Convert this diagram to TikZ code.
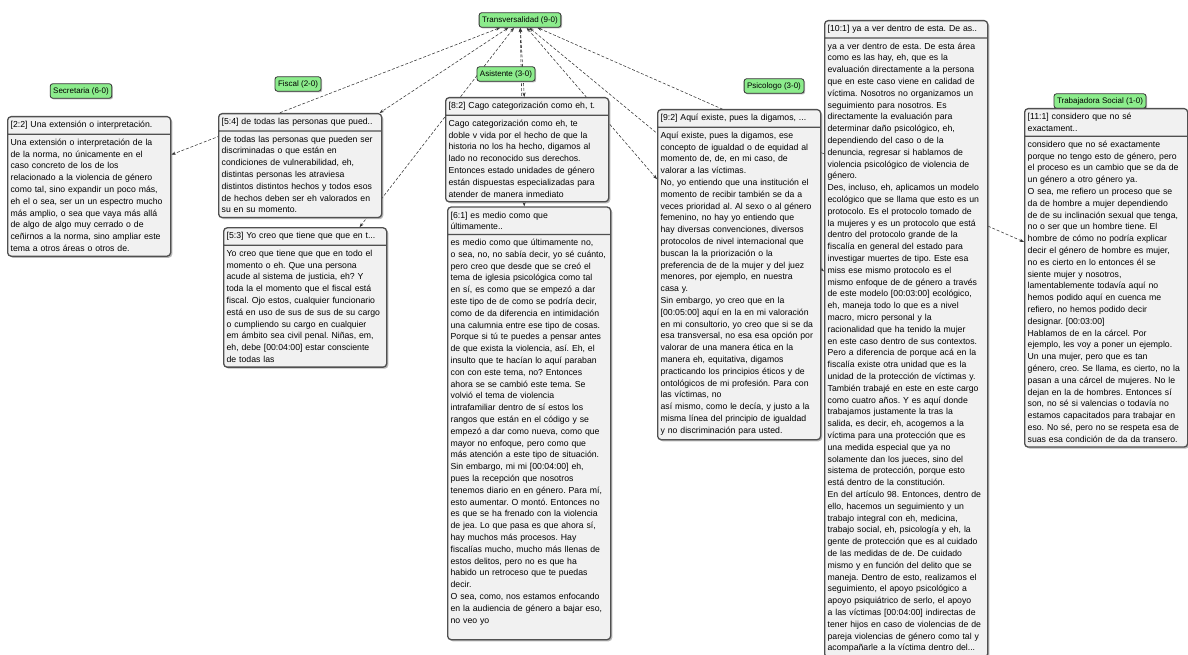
\documentclass[tikz,border=0pt]{standalone}
\usepackage{fontspec}
\setmainfont{Liberation Sans}
\usepackage{xcolor}
\usetikzlibrary{positioning}
\usetikzlibrary{shapes.multipart}
\usetikzlibrary{arrows.meta}
\usetikzlibrary{shadows}
\usetikzlibrary{backgrounds}
\definecolor{codegreen}{RGB}{140,236,140}
\definecolor{quotefill}{RGB}{241,241,241}
\definecolor{quoteline}{RGB}{80,80,80}
\frenchspacing

\begin{document}
\begin{tikzpicture}[
  x=1pt, y=-1pt,
  font=\fontsize{8.7}{11.8}\selectfont,
  codebox/.style={draw=black!80, line width=0.8pt, fill=codegreen, rounded corners=2.5pt, inner xsep=3pt, inner ysep=3.5pt,
    font=\fontsize{8}{9}\selectfont, drop shadow={shadow xshift=1.2pt, shadow yshift=-1.2pt, fill=black!55}},
  quotebox/.style={rectangle split, rectangle split parts=2, draw=quoteline, line width=1.3pt, fill=quotefill,
    rounded corners=3.5pt, text width=157pt, align=left, inner xsep=3pt, inner ysep=4pt, anchor=north west,
    drop shadow={shadow xshift=1.6pt, shadow yshift=-1.6pt, fill=black!55}},
  link/.style={{Stealth[length=4.5pt,width=3.2pt]}-{Stealth[length=4.5pt,width=3.2pt]}, dash pattern=on 3pt off 1.8pt, black!80, line width=0.55pt}
]
\useasboundingbox (0,0) rectangle (1188,655);

% Codes
\node[codebox] (trans) at (520,20) {Transversalidad (9-0)};
\node[codebox] (secr) at (81,91) {Secretaria (6-0)};
\node[codebox] (fisc) at (298,84) {Fiscal (2-0)};
\node[codebox] (asis) at (506,74) {Asistente (3-0)};
\node[codebox] (psic) at (774,86) {Psicologo (3-0)};
\node[codebox] (trab) at (1100,101) {Trabajadora Social (1-0)};

% Secretaria
\node[quotebox] (q22) at (7,116)
{[2:2] Una extensión o interpretación.
\nodepart{two}
Una extensión o interpretación de la\\
de la norma, no únicamente en el\\
caso concreto de los de los\\
relacionado a la violencia de género\\
como tal, sino expandir un poco más,\\
eh el o sea, ser un un espectro mucho\\
más amplio, o sea que vaya más allá\\
de algo de algo muy cerrado o de\\
ceñirnos a la norma, sino ampliar este\\
tema a otros áreas o otros de.};

% Fiscal
\node[quotebox] (q54) at (218,113)
{[5:4] de todas las personas que pued..
\nodepart{two}
de todas las personas que pueden ser\\
discriminadas o que están en\\
condiciones de vulnerabilidad, eh,\\
distintas personas les atraviesa\\
distintos distintos hechos y todos esos\\
de hechos deben ser eh valorados en\\
su en su momento.};

\node[quotebox, below=9pt of q54.south west, anchor=north west, xshift=5pt] (q53)
{[5:3] Yo creo que tiene que que en t...
\nodepart{two}
Yo creo que tiene que que en todo el\\
momento o eh. Que una persona\\
acude al sistema de justicia, eh? Y\\
toda la el momento que el fiscal está\\
fiscal. Ojo estos, cualquier funcionario\\
está en uso de sus de sus de su cargo\\
o cumpliendo su cargo en cualquier\\
em ámbito sea civil penal. Niñas, em,\\
eh, debe [00:04:00] estar consciente\\
de todas las};

% Asistente
\node[quotebox] (q82) at (445,97)
{[8:2] Cago categorización como eh, t.
\nodepart{two}
Cago categorización como eh, te\\
doble v vida por el hecho de que la\\
historia no los ha hecho, digamos al\\
lado no reconocido sus derechos.\\
Entonces estado unidades de género\\
están dispuestas especializadas para\\
atender de manera inmediato};

\node[quotebox, below=4pt of q82.south west, anchor=north west, xshift=2pt] (q61)
{[6:1] es medio como que\\
últimamente..
\nodepart{two}
es medio como que últimamente no,\\
o sea, no, no sabía decir, yo sé cuánto,\\
pero creo que desde que se creó el\\
tema de iglesia psicológica como tal\\
en sí, es como que se empezó a dar\\
este tipo de de como se podría decir,\\
como de da diferencia en intimidación\\
una calumnia entre ese tipo de cosas.\\
Porque si tú te puedes a pensar antes\\
de que exista la violencia, así. Eh, el\\
insulto que te hacían lo aquí paraban\\
con con este tema, no? Entonces\\
ahora se se cambió este tema. Se\\
volvió el tema de violencia\\
intrafamiliar dentro de sí estos los\\
rangos que están en el código y se\\
empezó a dar como nueva, como que\\
mayor no enfoque, pero como que\\
más atención a este tipo de situación.\\
Sin embargo, mi mi [00:04:00] eh,\\
pues la recepción que nosotros\\
tenemos diario en en género. Para mí,\\
esto aumentar. O montó. Entonces no\\
es que se ha frenado con la violencia\\
de jea. Lo que pasa es que ahora sí,\\
hay muchos más procesos. Hay\\
fiscalías mucho, mucho más llenas de\\
estos delitos, pero no es que ha\\
habido un retroceso que te puedas\\
decir.\\
O sea, como, nos estamos enfocando\\
en la audiencia de género a bajar eso,\\
no veo yo\\
\mbox{}};

% Psicologo
\node[quotebox] (q92) at (657,109)
{[9:2] Aquí existe, pues la digamos, ...
\nodepart{two}
Aquí existe, pues la digamos, ese\\
concepto de igualdad o de equidad al\\
momento de, de, en mi caso, de\\
valorar a las víctimas.\\
No, yo entiendo que una institución el\\
momento de recibir también se da a\\
veces prioridad al. Al sexo o al género\\
femenino, no hay yo entiendo que\\
hay diversas convenciones, diversos\\
protocolos de nivel internacional que\\
buscan la la priorización o la\\
preferencia de de la mujer y del juez\\
menores, por ejemplo, en nuestra\\
casa y.\\
Sin embargo, yo creo que en la\\{}
[00:05:00] aquí en la en mi valoración\\
en mi consultorio, yo creo que si se da\\
esa transversal, no esa esa opción por\\
valorar de una manera ética en la\\
manera eh, equitativa, digamos\\
practicando los principios éticos y de\\
ontológicos de mi profesión. Para con\\
las víctimas, no\\
así mismo, como le decía, y justo a la\\
misma línea del principio de igualdad\\
y no discriminación para usted.};

\node[quotebox] (q101) at (824,20)
{[10:1] ya a ver dentro de esta. De as..
\nodepart{two}
ya a ver dentro de esta. De esta área\\
como es las hay, eh, que es la\\
evaluación directamente a la persona\\
que en este caso viene en calidad de\\
víctima. Nosotros no organizamos un\\
seguimiento para nosotros. Es\\
directamente la evaluación para\\
determinar daño psicológico, eh,\\
dependiendo del caso o de la\\
denuncia, regresar si hablamos de\\
violencia psicológico de violencia de\\
género.\\
Des, incluso, eh, aplicamos un modelo\\
ecológico que se llama que esto es un\\
protocolo. Es el protocolo tomado de\\
la mujeres y es un protocolo que está\\
dentro del protocolo grande de la\\
fiscalía en general del estado para\\
investigar muertes de tipo. Este esa\\
miss ese mismo protocolo es el\\
mismo enfoque de de género a través\\
de este modelo [00:03:00] ecológico,\\
eh, maneja todo lo que es a nivel\\
macro, micro personal y la\\
racionalidad que ha tenido la mujer\\
en este caso dentro de sus contextos.\\
Pero a diferencia de porque acá en la\\
fiscalía existe otra unidad que es la\\
unidad de la protección de víctimas y.\\
También trabajé en este en este cargo\\
como cuatro años. Y es aquí donde\\
trabajamos justamente la tras la\\
salida, es decir, eh, acogemos a la\\
víctima para una protección que es\\
una medida especial que ya no\\
solamente dan los jueces, sino del\\
sistema de protección, porque esto\\
está dentro de la constitución.\\
En del artículo 98. Entonces, dentro de\\
ello, hacemos un seguimiento y un\\
trabajo integral con eh, medicina,\\
trabajo social, eh, psicología y eh, la\\
gente de protección que es al cuidado\\
de las medidas de de. De cuidado\\
mismo y en función del delito que se\\
maneja. Dentro de esto, realizamos el\\
seguimiento, el apoyo psicológico a\\
apoyo psiquiátrico de serlo, el apoyo\\
a las víctimas [00:04:00] indirectas de\\
tener hijos en caso de violencias de de\\
pareja violencias de género como tal y\\
acompañarle a la víctima dentro del...};

% Trabajadora Social
\node[quotebox] (q111) at (1024,108)
{[11:1] considero que no sé\\
exactament..
\nodepart{two}
considero que no sé exactamente\\
porque no tengo esto de género, pero\\
el proceso es un cambio que se da de\\
un género a otro género ya.\\
O sea, me refiero un proceso que se\\
da de hombre a mujer dependiendo\\
de de su inclinación sexual que tenga,\\
no o ser que un hombre tiene. El\\
hombre de cómo no podría explicar\\
decir el género de hombre es mujer,\\
no es cierto en lo entonces él se\\
siente mujer y nosotros,\\
lamentablemente todavía aquí no\\
hemos podido aquí en cuenca me\\
refiero, no hemos podido decir\\
designar. [00:03:00]\\
Hablamos de en la cárcel. Por\\
ejemplo, les voy a poner un ejemplo.\\
Un una mujer, pero que es tan\\
género, creo. Se llama, es cierto, no la\\
pasan a una cárcel de mujeres. No le\\
dejan en la de hombres. Entonces sí\\
son, no sé si valencias o todavía no\\
estamos capacitados para trabajar en\\
eso. No sé, pero no se respeta esa de\\
suas esa condición de da da transero.};

% Links to Transversalidad
\begin{scope}[on background layer]
\draw[link] (trans) -- (q22);
\draw[link] (trans) -- (q54);
\draw[link] (trans) -- (q53);
\draw[link] (trans) -- (q82);
\draw[link] (trans) -- (q61);
\draw[link] (trans) -- (q92);
\draw[link] (trans) -- (q101);
\draw[link] (trans) -- (q111);
\end{scope}

\end{tikzpicture}
\end{document}
